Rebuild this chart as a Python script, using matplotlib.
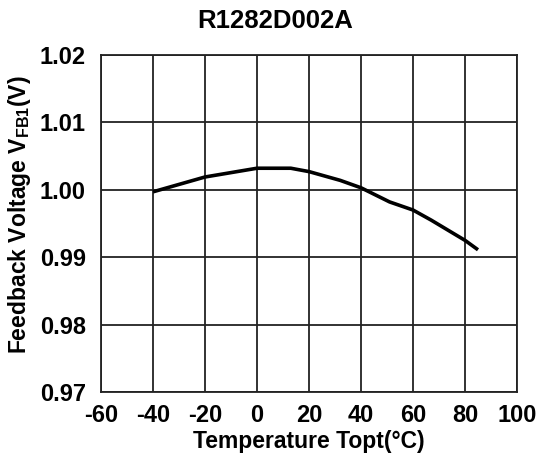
import matplotlib
matplotlib.use("Agg")
import matplotlib.pyplot as plt

# temperature (degC) and feedback voltage (V)
temp = [-40, -20, 0, 13, 20, 32, 40, 51, 60, 67, 80, 85]
vfb = [0.9997, 1.0019, 1.0032, 1.0032, 1.0027, 1.0014, 1.0003, 0.9982,
       0.9970, 0.9955, 0.9925, 0.9911]

x_ticks = [-60, -40, -20, 0, 20, 40, 60, 80, 100]
y_ticks = [0.97, 0.98, 0.99, 1.00, 1.01, 1.02]

plt.rcParams['font.family'] = ['Liberation Sans', 'DejaVu Sans']
plt.rcParams['font.weight'] = 'bold'
plt.rcParams['mathtext.fontset'] = 'custom'
plt.rcParams['mathtext.rm'] = 'Liberation Sans:bold'
plt.rcParams['mathtext.bf'] = 'Liberation Sans:bold'

fig = plt.figure(figsize=(5.38, 4.66), dpi=100)
ax = fig.add_axes([101 / 538, 1 - 392 / 466, 416 / 538, 337 / 466])

ax.plot(temp, vfb, color='black', linewidth=2.6, solid_capstyle='butt')

ax.set_xlim(-60, 100)
ax.set_ylim(0.97, 1.02)
ax.set_xticks(x_ticks)
ax.set_yticks(y_ticks)
ax.set_xticklabels([str(t) for t in x_ticks])
ax.set_yticklabels(["%.2f" % v for v in y_ticks])
ax.grid(True, color='#222222', linewidth=1.3)
ax.tick_params(length=0, labelsize=17)
ax.tick_params(axis='x', pad=9)
ax.tick_params(axis='y', pad=11)
for s in ax.spines.values():
    s.set_linewidth(1.3)
    s.set_color('#222222')

fig.text(275 / 538, 1 - 28.5 / 466, "R1282D002A", fontsize=18.5,
         fontweight='bold', ha='center', va='baseline')
ax.set_xlabel("Temperature Topt(°C)", fontsize=16.5, fontweight='bold', labelpad=2)
fig.text(20 / 538, 1 - 215 / 466, r"Feedback Voltage V$_{\mathregular{FB1}}$(V)",
         fontsize=16.5, fontweight='bold', rotation=90, ha='center', va='center')

fig.savefig("out.png", dpi=100)
